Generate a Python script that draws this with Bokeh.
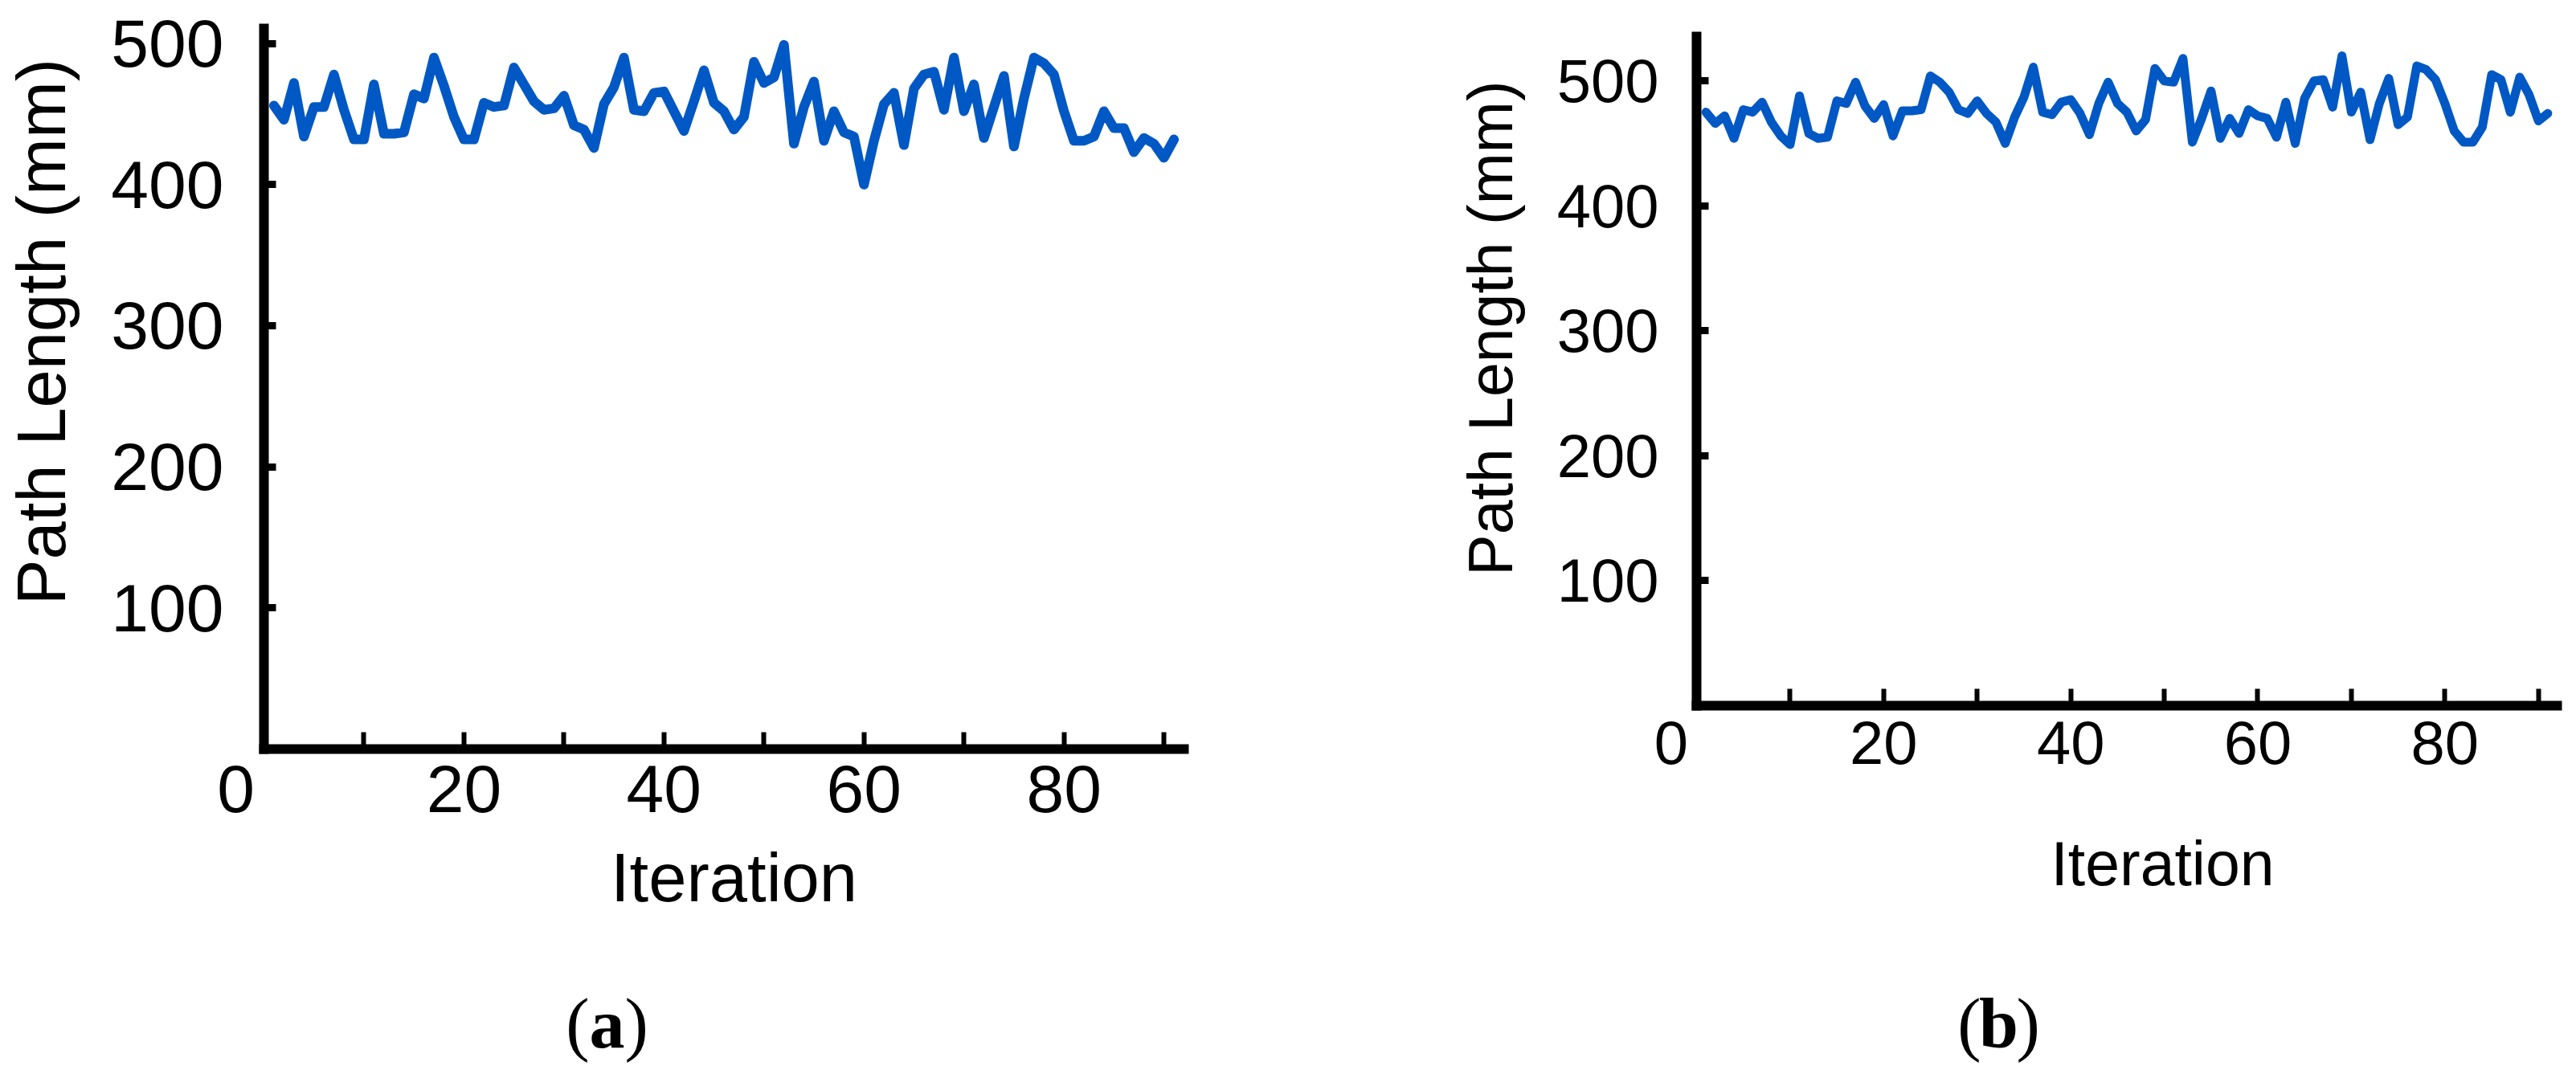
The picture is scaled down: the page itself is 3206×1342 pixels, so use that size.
from bokeh.plotting import figure
from bokeh.models import Range1d, FixedTicker, Label
from bokeh.layouts import row, column
from bokeh.embed import file_html
from bokeh.resources import INLINE

# ---------------- data ----------------
iterations = list(range(1, 92))

path_a = [456, 446, 472, 434, 455, 455, 478, 453, 432, 432,
          471, 436, 436, 437, 464, 461, 490, 470, 448, 432,
          432, 458, 455, 456, 483, 471, 459, 453, 454, 463,
          442, 439, 426, 457, 469, 490, 453, 452, 465, 466,
          452, 438, 459, 481, 458, 452, 439, 448, 487, 472,
          476, 499, 429, 455, 473, 431, 452, 437, 434, 400,
          431, 457, 465, 428, 468, 478, 480, 453, 490, 452,
          471, 433, 455, 477, 427, 461, 490, 486, 478, 452,
          431, 431, 434, 452, 440, 440, 423, 433, 429, 419,
          432]

path_b = [475, 466, 472, 454, 477, 475, 483, 467, 456, 449,
          488, 458, 454, 455, 484, 482, 499, 480, 470, 481,
          456, 476, 476, 477, 504, 499, 491, 477, 474, 484,
          474, 467, 450, 471, 487, 511, 475, 473, 483, 485,
          474, 457, 482, 499, 482, 475, 460, 469, 510, 500,
          499, 518, 451, 470, 492, 454, 470, 458, 477, 472,
          470, 455, 483, 450, 486, 500, 501, 479, 520, 475,
          491, 453, 482, 502, 465, 471, 512, 509, 501, 482,
          460, 451, 451, 463, 505, 501, 475, 503, 489, 468,
          474]

x_label_ticks = [0, 20, 40, 60, 80]
x_minor_ticks = [10, 30, 50, 70, 90]
y_ticks = [100, 200, 300, 400, 500]
x_title = "Iteration"
y_title = "Path Length (mm)"
captions = ["a", "b"]

LINE_COLOR = "#0058c4"
SANS = "Liberation Sans"
SERIF = "Liberation Serif"
NB = "\u00a0"
PAGE_BOTTOM = 1334      # 8 px margin + 1326 px content
BASELINE_FIX = 0.3      # measured baseline drift of Label text, in em


def style(p):
    p.grid.visible = False
    p.outline_line_color = None
    p.background_fill_color = "white"
    p.border_fill_color = "white"


def make_panel(fig_x0, fig_w, plot_bottom, frame_l, frame_r, frame_t, frame_b,
               x_end, y_end, values, tick_px, title_px, xstand, ystand,
               zero_pad, yt_pad, yt_standoff, line_w,
               xtitle_xy, cap_xy, letter):
    left = frame_l - fig_x0
    right = fig_x0 + fig_w - frame_r
    top = frame_t - 8
    plot_h = plot_bottom - 8
    bottom = plot_bottom - frame_b
    p = figure(width=fig_w, height=plot_h,
               x_range=Range1d(0, x_end), y_range=Range1d(0, y_end),
               output_backend="svg", toolbar_location=None,
               min_border_left=left, min_border_right=right,
               min_border_top=top, min_border_bottom=bottom)
    style(p)
    p.line(iterations, values, line_width=line_w, color=LINE_COLOR,
           line_join="round", line_cap="round")

    xa = p.xaxis[0]
    xa.ticker = FixedTicker(ticks=x_label_ticks, minor_ticks=x_minor_ticks)
    xa.major_label_overrides = {0: "0" + NB * zero_pad}
    xa.axis_line_width = 12
    xa.axis_line_color = "black"
    xa.axis_line_cap = "square"
    xa.major_tick_in = 21
    xa.major_tick_out = 0
    xa.minor_tick_in = 21
    xa.minor_tick_out = 0
    xa.major_tick_line_width = 6
    xa.minor_tick_line_width = 6
    xa.major_label_text_font = SANS
    xa.major_label_text_font_size = tick_px
    xa.major_label_text_color = "black"
    xa.major_label_standoff = xstand

    ya = p.yaxis[0]
    ya.ticker = FixedTicker(ticks=y_ticks, minor_ticks=[])
    ya.axis_line_width = 12
    ya.axis_line_color = "black"
    ya.axis_line_cap = "square"
    ya.major_tick_in = 15
    ya.major_tick_out = 0
    ya.major_tick_line_width = 9
    ya.minor_tick_line_color = None
    ya.major_label_text_font = SANS
    ya.major_label_text_font_size = tick_px
    ya.major_label_text_color = "black"
    ya.major_label_standoff = ystand
    ya.axis_label = NB * yt_pad + y_title
    ya.axis_label_text_font = SANS
    ya.axis_label_text_font_size = title_px
    ya.axis_label_text_font_style = "normal"
    ya.axis_label_text_color = "black"
    ya.axis_label_standoff = yt_standoff

    # caption strip under the plot, sharing the plot's horizontal frame
    cap_h = PAGE_BOTTOM - plot_bottom
    c = figure(width=fig_w, height=cap_h,
               x_range=Range1d(0, x_end), y_range=Range1d(0, cap_h),
               output_backend="svg", toolbar_location=None,
               x_axis_type=None, y_axis_type=None,
               min_border_left=left, min_border_right=right,
               min_border_top=0, min_border_bottom=0)
    style(c)
    sx = (frame_r - frame_l) / x_end

    def dx(X):
        return (X - frame_l) / sx

    def dy(Y, font_px):
        return PAGE_BOTTOM - Y + BASELINE_FIX * font_px

    title_n = float(title_px.replace("px", ""))
    c.add_layout(Label(x=dx(xtitle_xy[0]), y=dy(xtitle_xy[1], title_n),
                       text=x_title, text_font=SANS, text_font_size=title_px,
                       text_color="black",
                       text_align="center", text_baseline="alphabetic"))
    cx, cy = cap_xy
    cap_y = dy(cy, 88)
    c.add_layout(Label(x=dx(cx), y=cap_y, text=letter, text_font=SERIF,
                       text_font_size="88px", text_font_style="bold",
                       text_color="black",
                       text_align="center", text_baseline="alphabetic"))
    c.add_layout(Label(x=dx(cx - 22), y=cap_y, text="(", text_font=SERIF,
                       text_font_size="88px", text_color="black",
                       text_align="right", text_baseline="alphabetic"))
    c.add_layout(Label(x=dx(cx + 22), y=cap_y, text=")", text_font=SERIF,
                       text_font_size="88px", text_color="black",
                       text_align="left", text_baseline="alphabetic"))
    return column(p, c)


col_a = make_panel(fig_x0=8, fig_w=1600, plot_bottom=1042,
                   frame_l=336, frame_r=1481, frame_t=43, frame_b=940,
                   x_end=92, y_end=510.6, values=path_a,
                   tick_px="84px", title_px="85px", xstand=2, ystand=50,
                   zero_pad=3, yt_pad=6, yt_standoff=36, line_w=12,
                   xtitle_xy=(921, 1125), cap_xy=(763, 1308),
                   letter=captions[0])

col_b = make_panel(fig_x0=1608, fig_w=1590, plot_bottom=1020,
                   frame_l=2119, frame_r=3190, frame_t=53, frame_b=886,
                   x_end=92, y_end=535.5, values=path_b,
                   tick_px="76px", title_px="77px", xstand=3, ystand=47,
                   zero_pad=3, yt_pad=5, yt_standoff=37, line_w=11,
                   xtitle_xy=(2699, 1106), cap_xy=(2495, 1308),
                   letter=captions[1])

layout = row(col_a, col_b)
open("out.html", "w").write(file_html(layout, INLINE))
